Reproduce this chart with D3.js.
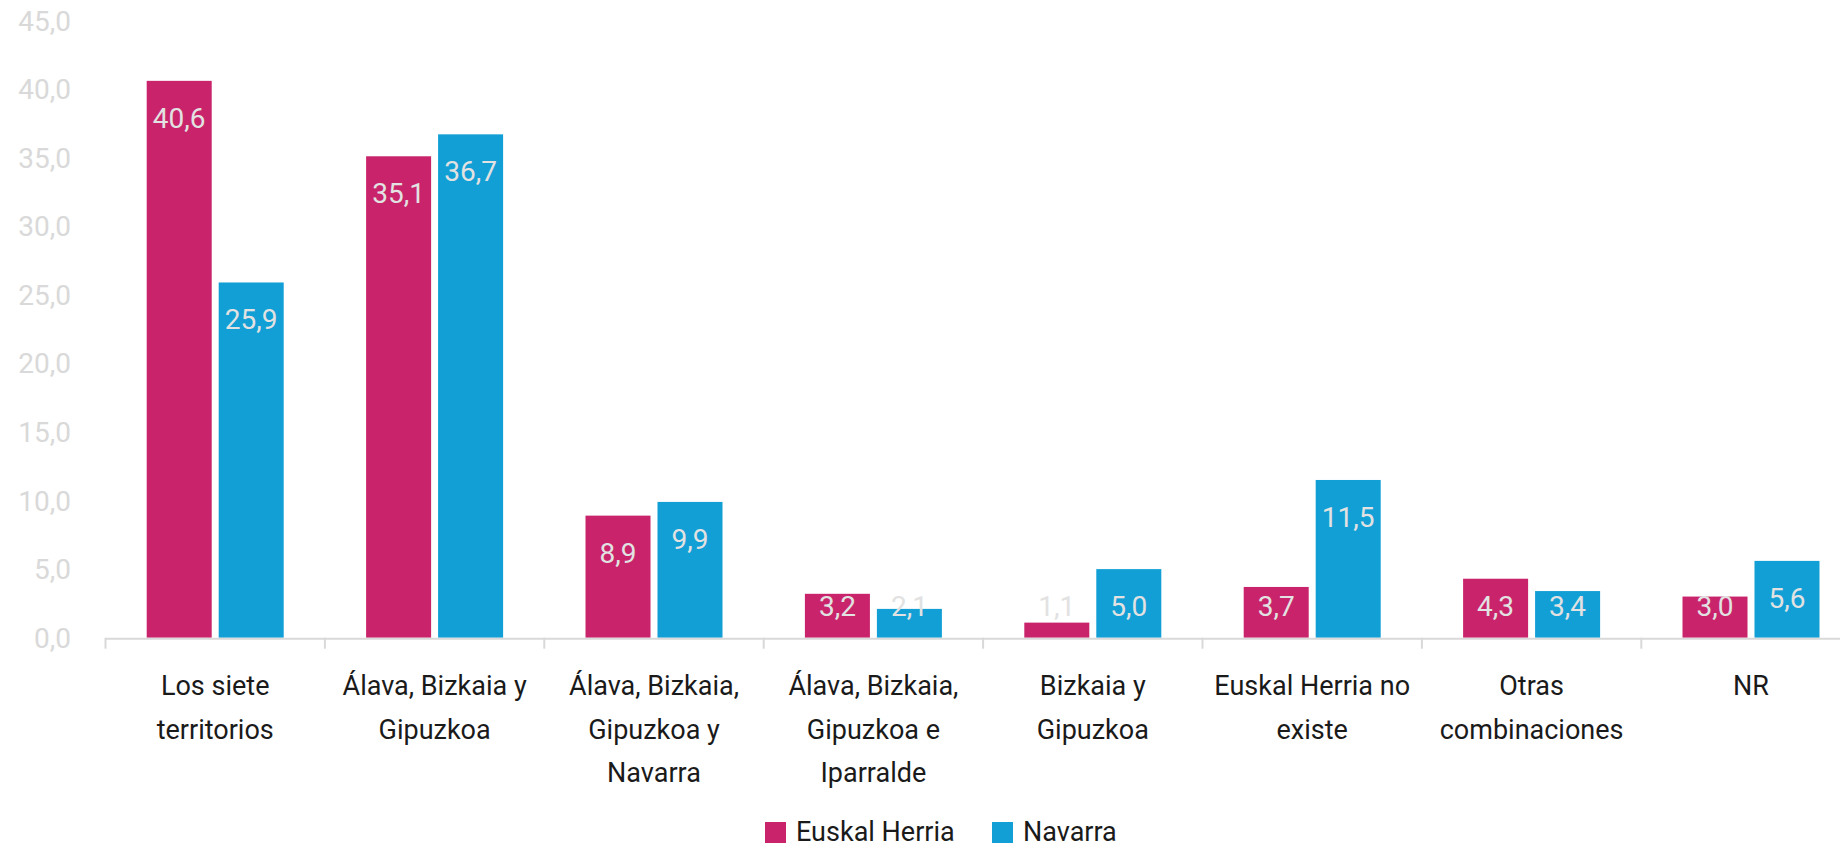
<!DOCTYPE html>
<meta charset="utf-8">
<style>
  body { margin: 0; background: #fff; }
  svg text { font-family: Roboto, "Open Sans", sans-serif; }
  .tick-y { fill: #d9d9d9; font-size: 28px; text-anchor: end; }
  .cat { fill: #1a1a1a; font-size: 27px; text-anchor: middle; }
  .val { fill: #e2e2e2; font-size: 28px; text-anchor: middle; }
  .legend text { fill: #1a1a1a; font-size: 27px; }
</style>
<svg width="1840" height="849"></svg>
<script src="https://d3js.org/d3.v7.min.js"></script>
<script>

// data
var categories = [
  'Los siete\nterritorios',
  'Álava, Bizkaia y\nGipuzkoa',
  'Álava, Bizkaia,\nGipuzkoa y\nNavarra',
  'Álava, Bizkaia,\nGipuzkoa e\nIparralde',
  'Bizkaia y\nGipuzkoa',
  'Euskal Herria no\nexiste',
  'Otras\ncombinaciones',
  'NR'
];
var series = ['Euskal Herria', 'Navarra'];
var euskalHerria = [40.6, 35.1, 8.9, 3.2, 1.1, 3.7, 4.3, 3.0];
var navarra = [25.9, 36.7, 9.9, 2.1, 5.0, 11.5, 3.4, 5.6];
var yTicks = [0, 5, 10, 15, 20, 25, 30, 35, 40, 45];
var colors = ['#c9246b', '#129fd6'];

var svg = d3.select('svg');

var locale = d3.formatLocale({decimal: ',', thousands: '.', grouping: [3], currency: ['', '€']});
var fmt = locale.format('.1f');

// scales
var y = d3.scaleLinear().domain([0, 45]).range([637.7, 20.5]);
var x0 = d3.scaleBand().domain(categories).range([105.5, 105.5 + 8 * 219.4]);
var x1 = d3.scaleBand().domain(series).range([41.2, 178.2]).paddingInner(0.097);
var color = d3.scaleOrdinal().domain(series).range(colors);

var rows = categories.map(function(c, i) {
  return {cat: c, values: [
    {key: series[0], v: euskalHerria[i]},
    {key: series[1], v: navarra[i]}
  ]};
});

// y tick labels (no axis line)
svg.append('g').selectAll('text')
  .data(yTicks)
  .enter().append('text')
    .attr('class', 'tick-y')
    .attr('x', 71)
    .attr('y', function(d) { return y(d) + 10; })
    .text(function(d) { return fmt(d); });

// bars
var groups = svg.append('g').selectAll('g')
  .data(rows)
  .enter().append('g')
    .attr('transform', function(d) { return 'translate(' + x0(d.cat) + ',0)'; });

groups.selectAll('rect')
  .data(function(d) { return d.values; })
  .enter().append('rect')
    .attr('x', function(d) { return x1(d.key); })
    .attr('y', function(d) { return y(d.v); })
    .attr('width', x1.bandwidth())
    .attr('height', function(d) { return y(0) - y(d.v); })
    .attr('fill', function(d) { return color(d.key); });

groups.selectAll('text')
  .data(function(d) { return d.values; })
  .enter().append('text')
    .attr('class', 'val')
    .attr('x', function(d) { return x1(d.key) + x1.bandwidth() / 2; })
    .attr('y', function(d) { return Math.min(y(d.v) + 37, 606) + 10; })
    .text(function(d) { return fmt(d.v); });

// x axis
var xAxis = svg.append('g');
xAxis.append('line')
  .attr('x1', x0.range()[0]).attr('x2', x0.range()[1])
  .attr('y1', y(0) + 1).attr('y2', y(0) + 1)
  .attr('stroke', '#d9d9d9').attr('stroke-width', 2);

xAxis.selectAll('.tk')
  .data(categories)
  .enter().append('line')
    .attr('x1', function(d) { return x0(d); })
    .attr('x2', function(d) { return x0(d); })
    .attr('y1', y(0)).attr('y2', y(0) + 11)
    .attr('stroke', '#d9d9d9').attr('stroke-width', 2);

xAxis.selectAll('.cat')
  .data(categories)
  .enter().append('text')
    .attr('class', 'cat')
    .attr('transform', function(d) { return 'translate(' + (x0(d) + x0.bandwidth() / 2) + ',695)'; })
    .each(function(d) {
      var t = d3.select(this);
      d.split('\n').forEach(function(line, i) {
        t.append('tspan').attr('x', 0).attr('y', i * 43.5).text(line);
      });
    });

// legend
var legendX = [765, 992];
var legend = svg.append('g').attr('class', 'legend').selectAll('g')
  .data(series)
  .enter().append('g')
    .attr('transform', function(d, i) { return 'translate(' + legendX[i] + ',822)'; });
legend.append('rect')
  .attr('width', 21).attr('height', 21)
  .attr('fill', function(d) { return color(d); });
legend.append('text')
  .attr('x', 31).attr('y', 19)
  .text(function(d) { return d; });

</script>
